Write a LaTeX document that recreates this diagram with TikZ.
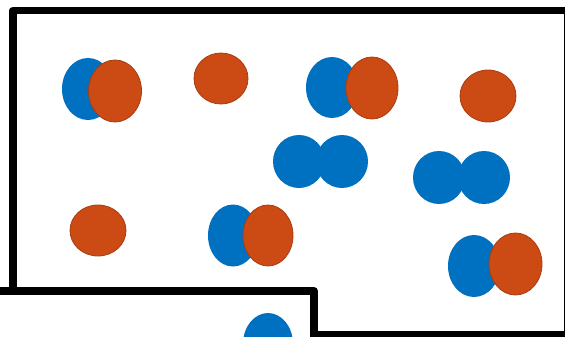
\documentclass[tikz,border=0pt]{standalone}
\definecolor{ballblue}{HTML}{0070C0}
\definecolor{ballorange}{HTML}{CC4A14}
\definecolor{orangeedge}{HTML}{A83C12}
\tikzset{
  blueball/.style={fill=ballblue},
  orangeball/.style={fill=ballorange, draw=orangeedge, line width=0.8pt},
  boxline/.style={draw=black, line width=7.5pt, line join=round, fill=white}
}
\begin{document}
\begin{tikzpicture}[x=1pt,y=-1pt]
\useasboundingbox (0,0) rectangle (565,337);
\clip (0,0) rectangle (565,337);
\fill[white] (0,0) rectangle (565,337);
% large box
\draw[boxline] (13,10.5) rectangle (567.5,334.5);
% row 1
\fill[blueball] (88,89) ellipse [x radius=26, y radius=31];
\filldraw[orangeball] (115,91) ellipse [x radius=26.5, y radius=31];
\filldraw[orangeball] (221,78.5) ellipse [x radius=27, y radius=25.5];
\fill[blueball] (332,87.5) ellipse [x radius=26, y radius=30.5];
\filldraw[orangeball] (372,88) ellipse [x radius=26, y radius=31];
\filldraw[orangeball] (488,96) ellipse [x radius=28, y radius=26];
% row 2
\fill[blueball] (299,161.5) ellipse [x radius=26, y radius=26.5];
\fill[blueball] (342,161.5) ellipse [x radius=26, y radius=26.5];
\fill[blueball] (439,177.5) ellipse [x radius=26, y radius=26.5];
\fill[blueball] (484,177.5) ellipse [x radius=26, y radius=26.5];
% row 3
\filldraw[orangeball] (98,230.5) ellipse [x radius=28, y radius=25.5];
\fill[blueball] (233,235.5) ellipse [x radius=25, y radius=31];
\filldraw[orangeball] (268,235.5) ellipse [x radius=25, y radius=30.5];
\fill[blueball] (474,266) ellipse [x radius=26, y radius=31];
\filldraw[orangeball] (515.5,264) ellipse [x radius=26.5, y radius=31];
% lower box
\draw[boxline] (-10,291) rectangle (314,370);
\fill[blueball] (268,344) ellipse [x radius=25, y radius=31];
\end{tikzpicture}
\end{document}
